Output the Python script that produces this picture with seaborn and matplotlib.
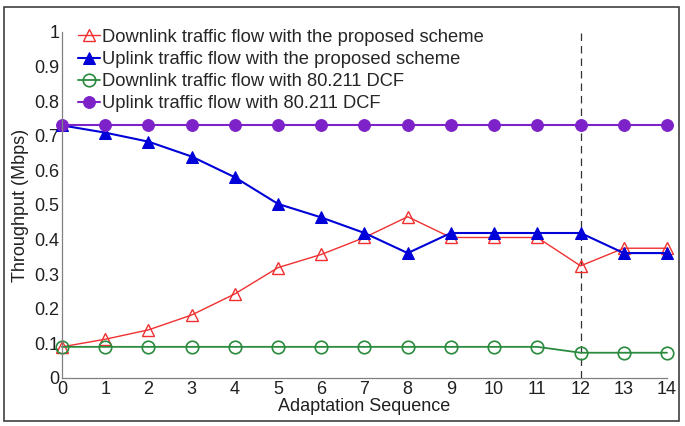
import matplotlib
matplotlib.use("Agg")
import matplotlib.pyplot as plt
import seaborn as sns
from matplotlib.patches import Rectangle

seq = list(range(15))
down_prop = [0.09, 0.112, 0.139, 0.182, 0.243, 0.319, 0.357, 0.406, 0.466,
             0.406, 0.406, 0.406, 0.324, 0.375, 0.375]
up_prop = [0.73, 0.709, 0.683, 0.64, 0.58, 0.503, 0.464, 0.419, 0.361,
           0.419, 0.419, 0.419, 0.419, 0.361, 0.361]
down_dcf = [0.09] * 12 + [0.073] * 3
up_dcf = [0.73] * 15
marker_line = 12

labels = ["Downlink traffic flow with the proposed scheme",
          "Uplink traffic flow with the proposed scheme",
          "Downlink traffic flow with 80.211 DCF",
          "Uplink traffic flow with 80.211 DCF"]

sns.set_style("white")
plt.rcParams['font.family'] = ['Liberation Sans', 'DejaVu Sans']

fig = plt.figure(figsize=(6.85, 4.26), dpi=100)
ax = fig.add_axes([0.0905, 0.1127, 0.8832, 0.8123])

# outer frame like the original export
fig.patches.append(Rectangle((0.006, 0.012), 0.985, 0.972, transform=fig.transFigure,
                             fill=False, edgecolor='#404040', linewidth=1.2))

ax.axvline(marker_line, color='#333333', linestyle=(0, (6, 4)), linewidth=0.9, zorder=1)

sns.lineplot(x=seq, y=down_prop, ax=ax, color='#f03030', linewidth=1.0, marker='^',
             markersize=9, markerfacecolor='none', markeredgecolor='#f03030',
             markeredgewidth=1.0, label=labels[0])
sns.lineplot(x=seq, y=up_prop, ax=ax, color='#0000d8', linewidth=1.5, marker='^',
             markersize=9, markerfacecolor='#0000d8', markeredgecolor='#0000d8',
             label=labels[1])
sns.lineplot(x=seq, y=down_dcf, ax=ax, color='#2a8a3e', linewidth=1.3, marker='o',
             markersize=9, markerfacecolor='none', markeredgecolor='#2a8a3e',
             markeredgewidth=1.2, label=labels[2])
sns.lineplot(x=seq, y=up_dcf, ax=ax, color='#7d22c8', linewidth=1.5, marker='o',
             markersize=8.5, markerfacecolor='#7d22c8', markeredgecolor='#7d22c8',
             label=labels[3])
for ln in ax.lines:
    ln.set_clip_on(False)

ax.set_xlim(0, 14)
ax.set_ylim(0, 1)
ax.set_xticks(seq)
ax.set_yticks([i / 10 for i in range(11)])
ax.set_yticklabels(['0', '0.1', '0.2', '0.3', '0.4', '0.5', '0.6', '0.7', '0.8', '0.9', '1'])
ax.tick_params(direction='in', length=4, color='#808080', labelsize=13, pad=2,
               labelcolor='#202020')
for s in ['top', 'right']:
    ax.spines[s].set_visible(False)
for s in ['left', 'bottom']:
    ax.spines[s].set_color('#808080')
    ax.spines[s].set_linewidth(0.9)

ax.set_xlabel('Adaptation Sequence', fontsize=13, labelpad=0, color='#202020')
ax.set_ylabel('Throughput (Mbps)', fontsize=13, labelpad=4, color='#202020')

ax.legend(loc='upper left', bbox_to_anchor=(0.015, 1.03), frameon=False, fontsize=13.2,
          handlelength=1.2, handletextpad=0.1, labelspacing=0.28, borderaxespad=0)

fig.savefig('out.png', dpi=100)
